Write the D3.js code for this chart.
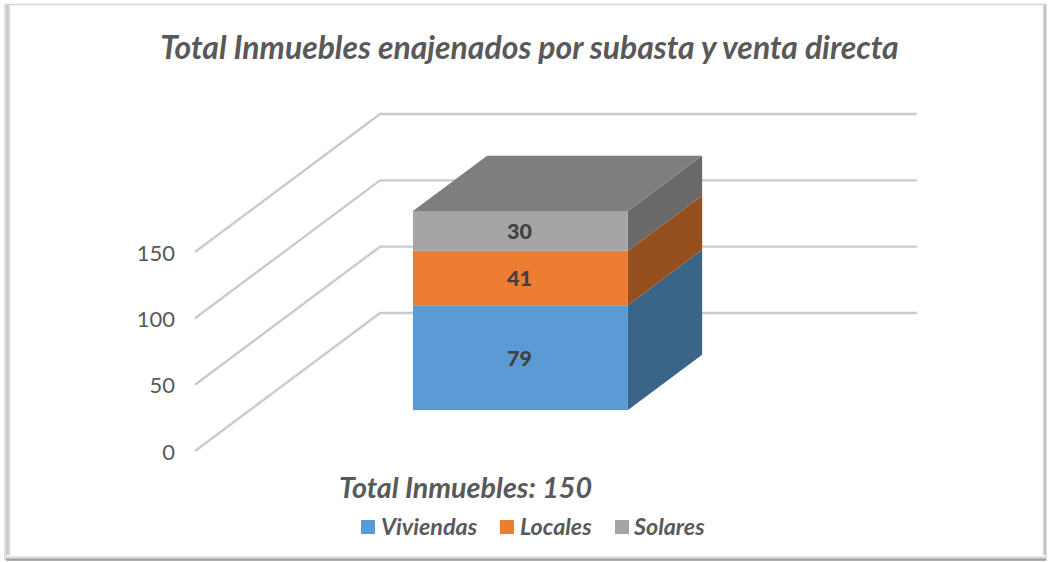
<!DOCTYPE html>
<html><head><meta charset="utf-8">
<script src="https://cdnjs.cloudflare.com/ajax/libs/d3/7.8.5/d3.min.js"></script>
<style>html,body{margin:0;padding:0;background:#fff}svg{display:block}text{font-family:Lato,"Open Sans",sans-serif}</style>
</head><body><svg id="c" width="1048" height="562"></svg>
<script>
const chartTitle = "Total Inmuebles enajenados por subasta y venta directa";
const subTitle = "Total Inmuebles: 150";
const categories = ["Viviendas","Locales","Solares"];
const seriesValues = [79,41,30];
const tickValues = [0,50,100,150];
const frontColors = ["#5b9bd5","#ed7d31","#a5a5a5"];
const sideColors = ["#3a6488","#964f1f","#696969"];
const topColor = "#7e7e7e";

const svg = d3.select("#c");
const defs = svg.append("defs");
function grad(id,x2,y2,stops){
  const g=defs.append("linearGradient").attr("id",id).attr("x1",0).attr("y1",0).attr("x2",x2).attr("y2",y2);
  stops.forEach(s=>g.append("stop").attr("offset",s[0]).attr("stop-color",s[1]));
}
grad("gl",1,0,[[0,"#c4c4c4"],[0.6,"#d4d4d4"],[1,"#ffffff"]]);
grad("gb",0,1,[[0,"#ffffff"],[0.5,"#d4d4d4"],[0.85,"#8a8a8a"],[1,"#e0e0e0"]]);
grad("gr",1,0,[[0,"#ffffff"],[0.6,"#c8c8c8"],[1,"#bcbcbc"]]);

// frame
svg.append("rect").attr("x",5).attr("y",4.5).attr("width",1041).attr("height",555).attr("fill","#fff").attr("stroke","#d6d6d6").attr("stroke-width",1.5);
svg.append("rect").attr("x",6).attr("y",5).attr("width",5).attr("height",553).attr("fill","url(#gl)");
svg.append("rect").attr("x",1042).attr("y",5).attr("width",4).attr("height",553).attr("fill","url(#gr)");
svg.append("rect").attr("x",6).attr("y",555).attr("width",1040).attr("height",6).attr("fill","url(#gb)");

// scales: value -> height, depth fraction -> floor offset
const y = d3.scaleLinear().domain([0,150]).range([451,252]);
const depthX = d3.scaleLinear().domain([0,1]).range([0,185]);
const depthY = d3.scaleLinear().domain([0,1]).range([0,-138]);
const xLeft = 195, xRight = 917;
const bar = {x0:358,x1:573,d0:0.297,d1:0.698};

function pt(xv,val,d){return [xv+depthX(d), y(val)+depthY(d)];}
const line = d3.line();

// grid (walls)
const grid = svg.append("g").attr("fill","none");
tickValues.forEach(t=>{
  const pts=[pt(xLeft,t,0),pt(xLeft,t,1),[xRight,y(t)+depthY(1)]];
  grid.append("path").attr("d",line(pts)).attr("stroke","#cbcbcb").attr("stroke-width",2.4).attr("stroke-linejoin","miter");
});

// axis labels
svg.append("g").selectAll("text").data(tickValues).join("text")
  .attr("x",175).attr("y",d=>y(d)+8.5).attr("text-anchor","end")
  .attr("font-size",22).attr("fill","#595959").text(d=>d);

// stacked 3D bar
const stacked = d3.stack().keys(categories)([Object.fromEntries(categories.map((c,i)=>[c,seriesValues[i]]))]);
const g3 = svg.append("g");
stacked.forEach((s,i)=>{
  const [a,b]=s[0];
  g3.append("path").attr("fill",sideColors[i]).attr("d",line([pt(bar.x1,a,bar.d0),pt(bar.x1,a,bar.d1),pt(bar.x1,b,bar.d1),pt(bar.x1,b,bar.d0)])+"Z");
  g3.append("path").attr("fill",frontColors[i]).attr("d",line([pt(bar.x0,a,bar.d0),pt(bar.x1,a,bar.d0),pt(bar.x1,b,bar.d0),pt(bar.x0,b,bar.d0)])+"Z");
  g3.append("text").attr("x",(bar.x0+bar.x1)/2+depthX(bar.d0)-1).attr("y",y((a+b)/2)+depthY(bar.d0)+8)
    .attr("text-anchor","middle").attr("font-size",21.5).attr("font-weight",900).attr("fill","#404040").text(seriesValues[i]);
});
const stackTop = stacked[stacked.length-1][0][1];
g3.append("path").attr("fill",topColor).attr("d",line([pt(bar.x0,stackTop,bar.d0),pt(bar.x1,stackTop,bar.d0),pt(bar.x1,stackTop,bar.d1),pt(bar.x0,stackTop,bar.d1)])+"Z");

// titles
svg.append("text").attr("x",529.5).attr("y",59).attr("text-anchor","middle")
  .attr("font-size",31.9).attr("font-weight",700).attr("font-style","italic").attr("fill","#595959").text(chartTitle);
svg.append("text").attr("x",339).attr("y",498)
  .attr("font-size",28.7).attr("font-weight",700).attr("font-style","italic").attr("fill","#595959").text(subTitle);

// legend
const legX=[361,500,615], txtX=[381,520,634];
const lg=svg.append("g").selectAll("g").data(categories).join("g");
lg.append("rect").attr("x",(d,i)=>legX[i]).attr("y",520).attr("width",14).attr("height",14).attr("fill",(d,i)=>frontColors[i]);
lg.append("text").attr("x",(d,i)=>txtX[i]).attr("y",534.5).attr("font-size",23.3).attr("font-weight",700).attr("font-style","italic").attr("fill","#595959").text(d=>d);
</script></body></html>
